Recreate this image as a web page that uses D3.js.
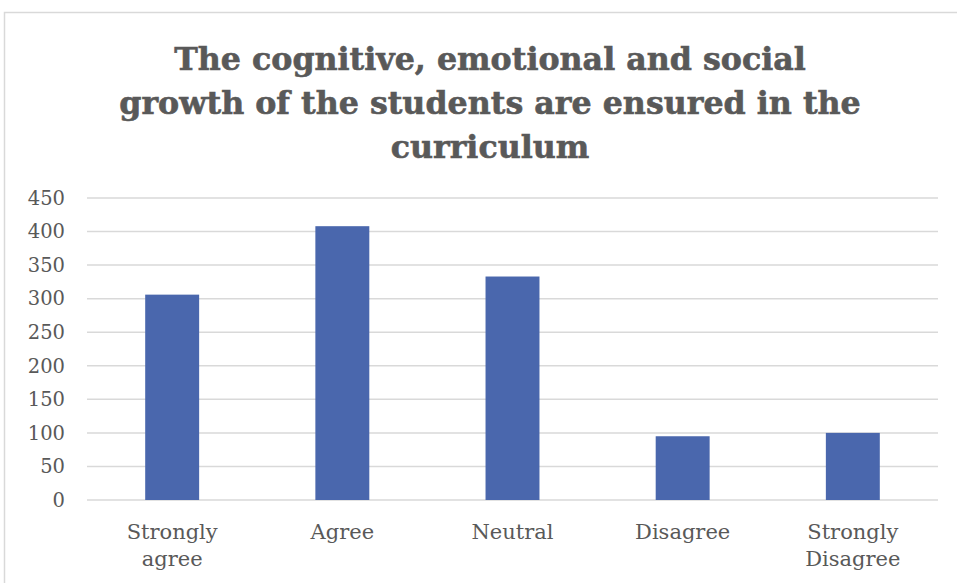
<!DOCTYPE html>
<html>
<head>
<meta charset="utf-8">
<script src="https://cdn.jsdelivr.net/npm/d3@7"></script>
<style>
  html, body { margin: 0; padding: 0; background: #fff; }
  svg { display: block; }
  text { font-family: "DejaVu Serif", "Liberation Serif", serif; fill: #595959; }
</style>
</head>
<body>
<svg id="chart" width="957" height="583"></svg>
<script>
// Survey responses
const categories = [["Strongly", "agree"], ["Agree"], ["Neutral"], ["Disagree"], ["Strongly", "Disagree"]];
const values = [306, 408, 333, 95, 100];
const yTicks = [0, 50, 100, 150, 200, 250, 300, 350, 400, 450];
const titleLines = [
  "The cognitive, emotional and social",
  "growth of the students are ensured in the",
  "curriculum"
];

const svg = d3.select("#chart");
const W = 957, H = 583;
const margin = { left: 87, right: 19, top: 198, bottom: 83 };

// chart area frame
svg.append("rect")
  .attr("x", 4.5).attr("y", 12.5)
  .attr("width", W + 10).attr("height", H + 10)
  .attr("fill", "#fff").attr("stroke", "#d9d9d9").attr("stroke-width", 1.5);

// title
const title = svg.append("g");
titleLines.forEach((t, i) => {
  title.append("text")
    .attr("x", 490).attr("y", 70 + i * 44)
    .attr("text-anchor", "middle")
    .attr("font-weight", "bold")
    .attr("font-size", 30)
    .style("fill", "#595959")
    .style("stroke", "#595959")
    .style("stroke-width", 0.6)
    .text(t);
});
// fit title width to the widest line
const widest = title.selectAll("text").nodes()[1];
const scaleF = 742 / widest.getComputedTextLength();
title.selectAll("text").attr("font-size", 30 * Math.min(scaleF, 1.2));

const x = d3.scaleBand()
  .domain(d3.range(categories.length))
  .range([margin.left, W - margin.right])
  .paddingInner(0.683).paddingOuter(0.342);

const y = d3.scaleLinear()
  .domain([0, 450])
  .range([H - margin.bottom, margin.top]);

// gridlines
svg.append("g")
  .selectAll("line").data(yTicks).join("line")
  .attr("x1", margin.left).attr("x2", W - margin.right)
  .attr("y1", d => y(d)).attr("y2", d => y(d))
  .attr("stroke", "#d9d9d9").attr("stroke-width", 1.5);

// y axis labels
const yAxis = d3.axisLeft(y).tickValues(yTicks).tickSize(0).tickPadding(22);
svg.append("g")
  .attr("transform", `translate(${margin.left},0)`)
  .call(yAxis)
  .call(g => g.select(".domain").remove())
  .call(g => g.selectAll("text")
    .attr("font-size", 19.5)
    .style("font-family", "\"DejaVu Serif\", serif")
    .style("fill", "#595959"));

// bars
svg.append("g")
  .selectAll("rect").data(values).join("rect")
  .attr("x", (d, i) => x(i))
  .attr("width", x.bandwidth())
  .attr("y", d => y(d))
  .attr("height", d => y(0) - y(d))
  .attr("fill", "#4a67ad");

// category labels
const xl = svg.append("g");
categories.forEach((lines, i) => {
  const t = xl.append("text")
    .attr("text-anchor", "middle")
    .attr("font-size", 21)
    .style("fill", "#595959");
  lines.forEach((s, j) => {
    t.append("tspan")
      .attr("x", x(i) + x.bandwidth() / 2)
      .attr("y", 539 + j * 27)
      .text(s);
  });
});
</script>
</body>
</html>
